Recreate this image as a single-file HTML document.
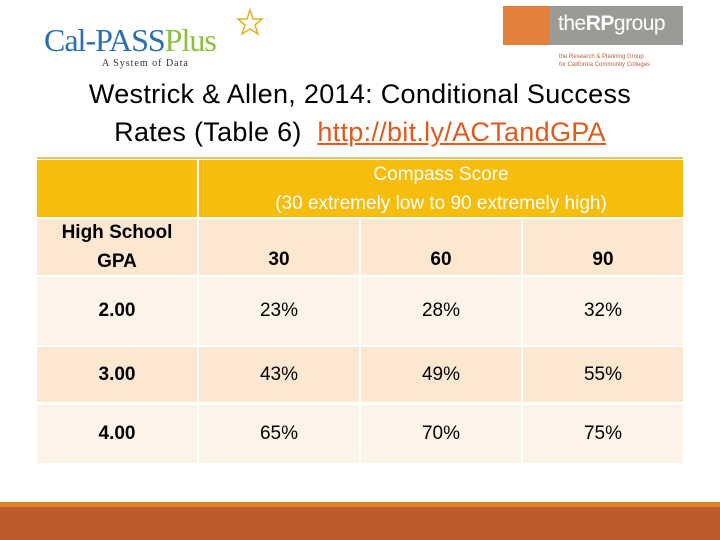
<!DOCTYPE html>
<html><head><meta charset="utf-8"><style>
body{margin:0;width:720px;height:540px;position:relative;background:#fff;font-family:"Liberation Sans",sans-serif;overflow:hidden}
.a{position:absolute}
.c{position:absolute;display:flex;align-items:center;justify-content:center;text-align:center;font-size:19px;color:#000}
.b{font-weight:bold}
</style></head><body>
<div class="a" style="left:44px;top:22px;width:220px;height:50px">
 <span style="font-family:'Liberation Serif',serif;font-size:32px;color:#2a6fb0;letter-spacing:-1px">Cal-PASS</span><span style="font-family:'Liberation Serif',serif;font-size:32px;color:#8cc040;letter-spacing:-1px">Plus</span>
 <div style="position:absolute;left:58px;top:36px;font-family:'Liberation Serif',serif;font-size:10px;color:#333;letter-spacing:1px">A System of Data</div>
 <svg class="a" style="left:186px;top:-14px" width="40" height="30"><polygon points="20,2 23,11 32,11 25,17 28,26 20,21 12,26 15,17 8,11 17,11" fill="none" stroke="#e8b020" stroke-width="1.5"/></svg>
</div>
<div class="a" style="left:503px;top:6px;width:180px;height:39px;background:#9a9a96">
 <div class="a" style="left:0;top:0;width:47px;height:39px;background:#e4803a"></div>
 <div class="a" style="left:55px;top:6px;font-size:21px;color:#fff;letter-spacing:-0.5px">the<b>RP</b>group</div>
</div>
<div class="a" style="left:559px;top:53px;font-size:6px;color:#c0603a;line-height:8px">the Research &amp; Planning Group<br>for California Community Colleges</div>
<div class="a" style="left:0;top:75px;width:720px;text-align:center;font-size:27px;line-height:38px;color:#000;letter-spacing:0.3px">Westrick &amp; Allen, 2014: Conditional Success<br>Rates (Table 6)&nbsp; <span style="color:#e05a1c;text-decoration:underline">http://bit.ly/ACTandGPA</span></div>

<div class="a" style="left:37px;top:157px;width:646px;height:2px;background:#e8c060"></div>
<div class="a" style="left:37px;top:160px;width:160px;height:57px;background:#f6bd0c"></div>
<div class="c" style="left:199px;top:160px;width:484px;height:57px;background:#f6bd0c;color:#fff;font-size:19px;line-height:29px">Compass Score<br>(30 extremely low to 90 extremely high)</div>
<div class="c b" style="left:37px;top:219px;width:160px;height:56px;background:#fce8d0;font-size:19px;line-height:29px">High School<br>GPA</div>
<div id="tbl"></div>
<div class="a" style="left:0;top:502px;width:720px;height:5px;background:#e0822a"></div>
<div class="a" style="left:0;top:507px;width:720px;height:33px;background:#be5a2b"></div>
<script>
const scores=["30","60","90"];
const gpas=["2.00","3.00","4.00"];
const rates=[[23,28,32],[43,49,55],[65,70,75]];
const root=document.body;
const colX=[199,361,523];
function cell(x,y,w,h,bg,txt,bold,name){
 const d=document.createElement('div');
 d.className='c';
 d.style.cssText=`left:${x}px;top:${y}px;width:${w}px;height:${h}px;background:${bg};${bold?'font-weight:bold;':''}`;
 d.textContent=txt;
 
 
 root.appendChild(d);return d;
}
scores.forEach((s,i)=>{const d=cell(colX[i],219,160,52,'#fce8d0',s,true,'score-header-'+s);d.style.alignItems='flex-end';d.style.borderBottom='4px solid #fce8d0';});
const rowY=[277,347,405],rowH=[68,55,58],bgs=['#fdf3e8','#fce8d0','#fdf3e8'];
gpas.forEach((g,r)=>{
 cell(37,rowY[r],160,rowH[r],bgs[r],g,true,'gpa-'+g);
 rates[r].forEach((v,i)=>cell(colX[i],rowY[r],160,rowH[r],bgs[r],v+'%',false,'rate-gpa'+g+'-score'+scores[i]));
});
</script>
</body></html>
